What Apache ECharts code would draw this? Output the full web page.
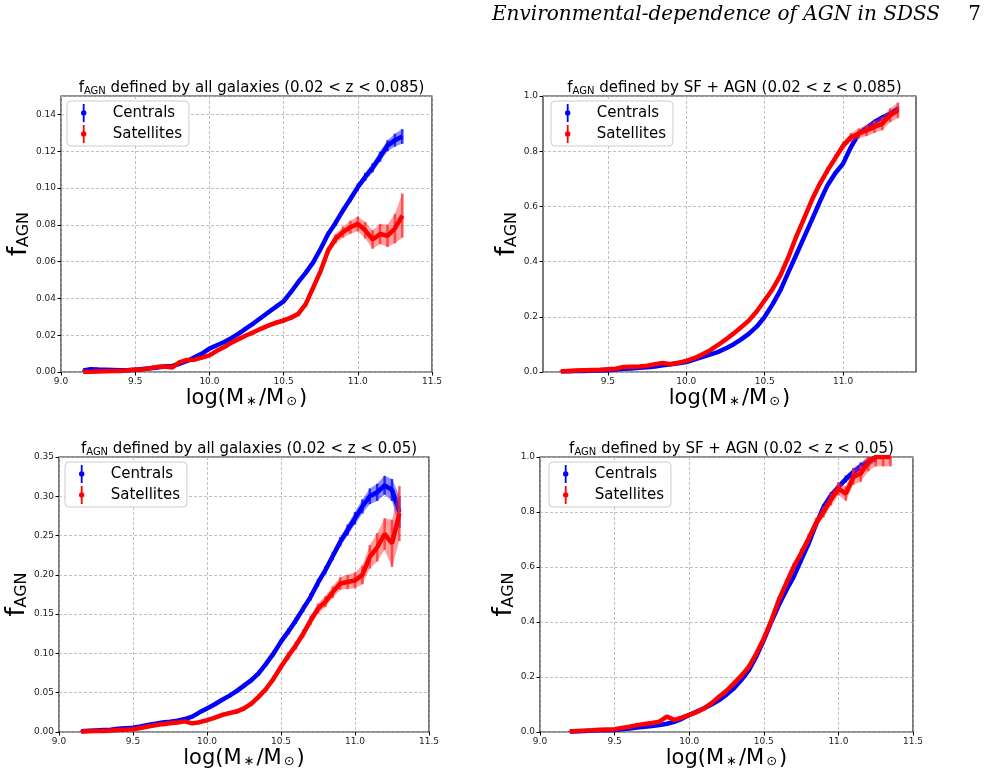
<!DOCTYPE html>
<html>
<head>
<meta charset="utf-8">
<script src="https://cdn.jsdelivr.net/npm/echarts@6/dist/echarts.min.js"></script>
<style>
  html, body { margin: 0; padding: 0; background: #fff; }
  #chart { width: 991px; height: 776px; }
</style>
</head>
<body>
<div id="chart"></div>
<script>
// log stellar mass bins per panel
const mass1 = [9.15,9.2,9.25,9.3,9.35,9.4,9.45,9.5,9.55,9.6,9.65,9.7,9.75,9.8,9.85,9.9,9.95,10.0,10.05,10.1,10.15,10.2,10.25,10.3,10.35,10.4,10.45,10.5,10.55,10.6,10.65,10.7,10.75,10.8,10.85,10.9,10.95,11.0,11.05,11.1,11.15,11.2,11.25,11.3];
const mass2 = [9.2,9.25,9.3,9.35,9.4,9.45,9.5,9.55,9.6,9.65,9.7,9.75,9.8,9.85,9.9,9.95,10.0,10.05,10.1,10.15,10.2,10.25,10.3,10.35,10.4,10.45,10.5,10.55,10.6,10.65,10.7,10.75,10.8,10.85,10.9,10.95,11.0,11.05,11.1,11.15,11.2,11.25,11.3,11.35];

// panel 1: all galaxies, 0.02 < z < 0.085
const cen1 = [0.0008,0.0015,0.0013,0.0012,0.0011,0.001,0.001,0.0012,0.0016,0.002,0.0025,0.003,0.0033,0.0045,0.006,0.008,0.010,0.0127,0.0145,0.0163,0.0185,0.021,0.0238,0.0266,0.0296,0.0326,0.0355,0.0384,0.0435,0.049,0.054,0.0597,0.067,0.075,0.081,0.0878,0.094,0.1005,0.106,0.111,0.117,0.123,0.126,0.128];
const cenErr1 = [0.0004,0.0004,0.0004,0.0004,0.0004,0.0004,0.0004,0.0004,0.0004,0.0005,0.0005,0.0005,0.0005,0.0005,0.0006,0.0006,0.0006,0.0007,0.0007,0.0007,0.0008,0.0008,0.0008,0.0009,0.0009,0.001,0.001,0.001,0.0011,0.0012,0.0012,0.0013,0.0014,0.0015,0.0016,0.0017,0.0018,0.002,0.0022,0.0025,0.0028,0.003,0.0035,0.004];
const sat1 = [0.0,0.0002,0.0003,0.0004,0.0005,0.0006,0.001,0.0013,0.0015,0.002,0.0028,0.003,0.0025,0.0054,0.0065,0.0067,0.0078,0.009,0.0115,0.0136,0.016,0.018,0.020,0.0217,0.0236,0.0253,0.0268,0.028,0.0295,0.0317,0.037,0.046,0.055,0.066,0.0724,0.076,0.0787,0.0805,0.077,0.072,0.075,0.074,0.078,0.085];
const satErr1 = [0.0004,0.0004,0.0004,0.0004,0.0004,0.0004,0.0004,0.0004,0.0005,0.0005,0.0005,0.0005,0.0005,0.0006,0.0006,0.0006,0.0007,0.0007,0.0007,0.0008,0.0008,0.0009,0.0009,0.001,0.001,0.0011,0.0012,0.0012,0.0013,0.0014,0.0015,0.0017,0.0019,0.002,0.0025,0.003,0.0035,0.004,0.0045,0.005,0.0055,0.006,0.008,0.012];

// panel 2: SF + AGN, 0.02 < z < 0.085
const cen2 = [0.003,0.003,0.004,0.004,0.005,0.005,0.006,0.009,0.012,0.013,0.015,0.017,0.02,0.024,0.028,0.032,0.036,0.045,0.054,0.063,0.072,0.085,0.1,0.118,0.139,0.165,0.2,0.245,0.296,0.36,0.423,0.487,0.55,0.615,0.676,0.72,0.755,0.815,0.864,0.885,0.906,0.922,0.936,0.954];
const cenErr2 = [0.002,0.002,0.002,0.002,0.002,0.002,0.002,0.002,0.002,0.002,0.002,0.002,0.002,0.002,0.002,0.002,0.002,0.002,0.003,0.003,0.003,0.003,0.003,0.003,0.003,0.003,0.004,0.004,0.004,0.004,0.004,0.005,0.005,0.005,0.005,0.006,0.006,0.006,0.007,0.007,0.008,0.008,0.009,0.01];
const sat2 = [0.003,0.004,0.005,0.006,0.007,0.008,0.01,0.012,0.018,0.019,0.02,0.023,0.028,0.033,0.028,0.034,0.04,0.05,0.063,0.078,0.097,0.117,0.139,0.162,0.187,0.22,0.26,0.3,0.35,0.415,0.489,0.555,0.622,0.68,0.73,0.775,0.82,0.85,0.864,0.875,0.888,0.9,0.93,0.948];
const satErr2 = [0.003,0.003,0.003,0.003,0.003,0.003,0.003,0.003,0.003,0.003,0.003,0.003,0.004,0.004,0.004,0.004,0.004,0.004,0.005,0.005,0.005,0.005,0.006,0.006,0.006,0.007,0.007,0.008,0.008,0.009,0.009,0.01,0.01,0.011,0.012,0.013,0.015,0.016,0.018,0.02,0.022,0.024,0.025,0.028];

// panel 3: all galaxies, 0.02 < z < 0.05
const cen3 = [0.001,0.0015,0.002,0.0025,0.003,0.004,0.0048,0.0055,0.007,0.009,0.0105,0.012,0.013,0.0144,0.0165,0.0195,0.025,0.030,0.035,0.0407,0.046,0.052,0.059,0.066,0.075,0.087,0.1,0.115,0.128,0.142,0.157,0.172,0.19,0.206,0.224,0.242,0.257,0.272,0.287,0.300,0.305,0.314,0.308,0.28];
const cenErr3 = [0.001,0.001,0.001,0.001,0.001,0.001,0.001,0.001,0.0012,0.0012,0.0013,0.0014,0.0015,0.0016,0.0017,0.0018,0.002,0.002,0.0022,0.0024,0.0026,0.0028,0.003,0.0032,0.0034,0.0036,0.0038,0.004,0.0042,0.0044,0.0046,0.0048,0.005,0.0052,0.0055,0.006,0.007,0.008,0.009,0.01,0.011,0.012,0.014,0.02];
const sat3 = [0.0005,0.001,0.0012,0.0013,0.002,0.0025,0.003,0.0034,0.005,0.007,0.0085,0.01,0.011,0.012,0.0135,0.011,0.0125,0.015,0.018,0.0216,0.024,0.026,0.03,0.036,0.045,0.055,0.068,0.083,0.097,0.11,0.125,0.142,0.157,0.166,0.178,0.189,0.191,0.193,0.2,0.223,0.235,0.252,0.24,0.278];
const satErr3 = [0.001,0.001,0.001,0.001,0.001,0.001,0.001,0.001,0.0012,0.0012,0.0013,0.0014,0.0015,0.0016,0.0017,0.0018,0.002,0.002,0.0022,0.0024,0.0026,0.0028,0.003,0.0032,0.0035,0.0038,0.004,0.0045,0.005,0.0052,0.0055,0.006,0.0065,0.007,0.0075,0.008,0.009,0.01,0.012,0.015,0.018,0.02,0.03,0.035];

// panel 4: SF + AGN, 0.02 < z < 0.05
const cen4 = [0.002,0.003,0.004,0.005,0.006,0.0065,0.007,0.01,0.013,0.016,0.019,0.022,0.025,0.03,0.037,0.048,0.062,0.074,0.086,0.1,0.116,0.136,0.159,0.19,0.225,0.275,0.334,0.4,0.461,0.515,0.564,0.625,0.685,0.755,0.818,0.86,0.891,0.92,0.945,0.965,0.982,1.0];
const cenErr4 = [0.002,0.002,0.002,0.002,0.002,0.002,0.002,0.002,0.002,0.002,0.003,0.003,0.003,0.003,0.003,0.003,0.004,0.004,0.004,0.004,0.005,0.005,0.005,0.006,0.006,0.006,0.007,0.007,0.008,0.008,0.009,0.009,0.01,0.01,0.011,0.012,0.012,0.013,0.014,0.015,0.016,0.018];
const sat4 = [0.002,0.004,0.005,0.006,0.008,0.009,0.01,0.015,0.019,0.025,0.029,0.033,0.0375,0.056,0.044,0.052,0.062,0.072,0.086,0.105,0.128,0.15,0.177,0.205,0.237,0.285,0.34,0.405,0.479,0.54,0.6,0.65,0.703,0.76,0.80,0.845,0.885,0.867,0.927,0.94,0.98,1.0,1.0,1.0];
const satErr4 = [0.003,0.003,0.003,0.003,0.003,0.003,0.003,0.003,0.004,0.004,0.004,0.004,0.005,0.005,0.005,0.005,0.006,0.006,0.007,0.007,0.008,0.008,0.009,0.01,0.01,0.011,0.012,0.013,0.014,0.015,0.016,0.017,0.018,0.019,0.02,0.022,0.024,0.026,0.028,0.03,0.032,0.034,0.034,0.034];

const titles = [
  ' defined by all galaxies (0.02 < z < 0.085)',
  ' defined by SF + AGN (0.02 < z < 0.085)',
  ' defined by all galaxies (0.02 < z < 0.05)',
  ' defined by SF + AGN (0.02 < z < 0.05)'
];

const BLUE = '#0000ff';
const RED = '#ff0000';
const FONT = 'DejaVu Sans';

const grids = [
  { left: 61, top: 96, width: 371, height: 276 },
  { left: 543, top: 96, width: 373, height: 276 },
  { left: 59, top: 457, width: 370, height: 275 },
  { left: 540, top: 457, width: 373, height: 275 }
];

const panels = [
  { xs: mass1, c: cen1, ce: cenErr1, s: sat1, se: satErr1, ymax: 0.15, yint: 0.02, ydig: 2, xmin: 9.0, xmax: 11.5 },
  { xs: mass2, c: cen2, ce: cenErr2, s: sat2, se: satErr2, ymax: 1.0, yint: 0.2, ydig: 1, xmin: 9.086, xmax: 11.465 },
  { xs: mass1, c: cen3, ce: cenErr3, s: sat3, se: satErr3, ymax: 0.35, yint: 0.05, ydig: 2, xmin: 9.0, xmax: 11.5 },
  { xs: mass2, c: cen4, ce: cenErr4, s: sat4, se: satErr4, ymax: 1.0, yint: 0.2, ydig: 1, xmin: 9.0, xmax: 11.5 }
];

const chart = echarts.init(document.getElementById('chart'));

const xAxes = [], yAxes = [], series = [], titleOpts = [], legends = [];

const legendPos = [
  { left: 67, top: 101 },
  { left: 551, top: 101 },
  { left: 65, top: 462 },
  { left: 549, top: 462 }
];

const errIcon = 'path://M4,0H6V20H4Z M5,7A3,3,0,1,1,5,13A3,3,0,1,1,5,7Z';

panels.forEach((p, i) => {
  const g = grids[i];
  xAxes.push({
    type: 'value', gridIndex: i, min: p.xmin, max: p.xmax, interval: 0.5,
    name: 'log(M{s|∗}/M{s|⊙})', nameLocation: 'middle', nameGap: 16,
    nameTextStyle: {
      fontFamily: FONT, fontSize: 21, color: '#000', verticalAlign: 'top',
      rich: { s: { fontFamily: FONT, fontSize: 13, color: '#000', padding: [6, 2, 0, 2] } }
    },
    axisLine: { show: false },
    axisTick: Object.assign({ show: true, inside: false, length: 3.5, lineStyle: { color: '#000', width: 1 } },
      i === 1 ? { customValues: [9.5, 10.0, 10.5, 11.0] } : {}),
    axisLabel: Object.assign({ fontFamily: FONT, fontSize: 9, color: '#222', margin: 5,
      formatter: v => v.toFixed(1) },
      i === 1 ? { customValues: [9.5, 10.0, 10.5, 11.0] } : {}),
    splitLine: { show: true, lineStyle: { color: '#b0b0b0', width: 0.8, type: [3, 2] } }
  });
  yAxes.push({
    type: 'value', gridIndex: i, min: 0, max: p.ymax, interval: p.yint,
    name: '{f|f}{a|AGN}', nameLocation: 'middle', nameGap: 19, nameRotate: 90,
    nameTextStyle: {
      rich: {
        f: { fontFamily: FONT, fontSize: 26, color: '#000', lineHeight: 30, verticalAlign: 'bottom' },
        a: { fontFamily: FONT, fontSize: 16, color: '#000', lineHeight: 14, verticalAlign: 'bottom' }
      }
    },
    axisLine: { show: false },
    axisTick: { show: true, inside: false, length: 3.5, lineStyle: { color: '#000', width: 1 } },
    axisLabel: { fontFamily: FONT, fontSize: 9, color: '#222', margin: 5, showMaxLabel: i !== 0,
      formatter: v => v.toFixed(p.ydig) },
    splitLine: { show: true, lineStyle: { color: '#b0b0b0', width: 0.8, type: [3, 2] } }
  });

  titleOpts.push({
    text: '{f|f}{a|AGN}{t|' + titles[i] + '}',
    left: g.left + g.width / 2, top: g.top - 25, textAlign: 'center',
    textStyle: {
      fontWeight: 'normal',
      rich: {
        f: { fontFamily: FONT, fontSize: 15, fontWeight: 'normal', color: '#000', lineHeight: 20, verticalAlign: 'bottom' },
        a: { fontFamily: FONT, fontSize: 10, fontWeight: 'normal', color: '#000', lineHeight: 9, verticalAlign: 'bottom' },
        t: { fontFamily: FONT, fontSize: 15, fontWeight: 'normal', color: '#000', lineHeight: 20, verticalAlign: 'bottom' }
      }
    }
  });

  legends.push({
    left: legendPos[i].left, top: legendPos[i].top, orient: 'vertical',
    data: [{ name: 'Centrals', icon: errIcon }, { name: 'Satellites', icon: errIcon }],
    itemWidth: 8, itemHeight: 18, itemGap: 3,
    padding: [3, 7, 3, 14],
    borderColor: '#cccccc', borderWidth: 1, borderRadius: 4, backgroundColor: '#fff',
    textStyle: { fontFamily: FONT, fontSize: 15, color: '#000', padding: [0, 0, 0, 20] },
    selectedMode: false
  });

  const groups = [
    { name: 'Centrals', color: BLUE, errColor: 'rgba(0,0,255,0.75)', band: 'rgba(0,0,255,0.45)', ys: p.c, es: p.ce },
    { name: 'Satellites', color: RED, errColor: 'rgba(255,40,40,0.75)', band: 'rgba(255,40,40,0.45)', ys: p.s, es: p.se }
  ];
  groups.forEach((gr, k) => {
    const pts = gr.ys.map((y, j) => [p.xs[j], y, gr.es[j]]);
    // shaded envelope of the error bars
    series.push({
      type: 'custom', xAxisIndex: i, yAxisIndex: i, z: 2 + k * 3, clip: true,
      data: [0], silent: true,
      renderItem: (params, api) => {
        const upper = pts.map(d => api.coord([d[0], d[1] + d[2]]));
        const lower = pts.map(d => api.coord([d[0], d[1] - d[2]])).reverse();
        return { type: 'polygon', shape: { points: upper.concat(lower) }, style: { fill: gr.band } };
      }
    });
    // individual error bars
    series.push({
      type: 'custom', xAxisIndex: i, yAxisIndex: i, z: 3 + k * 3, clip: true,
      data: pts, silent: true,
      renderItem: (params, api) => {
        const x = api.value(0), y = api.value(1), e = api.value(2);
        const a = api.coord([x, y - e]);
        const b = api.coord([x, y + e]);
        return {
          type: 'line',
          shape: { x1: a[0], y1: a[1], x2: b[0], y2: b[1] },
          style: { stroke: gr.errColor, lineWidth: 2.5 }
        };
      }
    });
    series.push({
      type: 'line', name: gr.name, xAxisIndex: i, yAxisIndex: i, z: 4 + k * 3,
      data: pts.map(d => [d[0], d[1]]),
      showSymbol: false, symbol: 'circle', clip: true,
      color: gr.color,
      lineStyle: { color: gr.color, width: 4.5 },
      animation: false
    });
  });
});

chart.setOption({
  animation: false,
  backgroundColor: '#fff',
  grid: grids.map(g => Object.assign({ show: true, borderColor: '#222', borderWidth: 1.2, backgroundColor: 'transparent' }, g)),
  title: titleOpts,
  legend: legends,
  xAxis: xAxes,
  yAxis: yAxes,
  series: series,
  graphic: [
    { type: 'text', right: 51, top: 5,
      style: { text: 'Environmental-dependence of AGN in SDSS', font: 'italic 20px "DejaVu Serif"', fill: '#000' } },
    { type: 'text', right: 10, top: 5,
      style: { text: '7', font: '20px "DejaVu Serif"', fill: '#000' } }
  ]
});
</script>
</body>
</html>
